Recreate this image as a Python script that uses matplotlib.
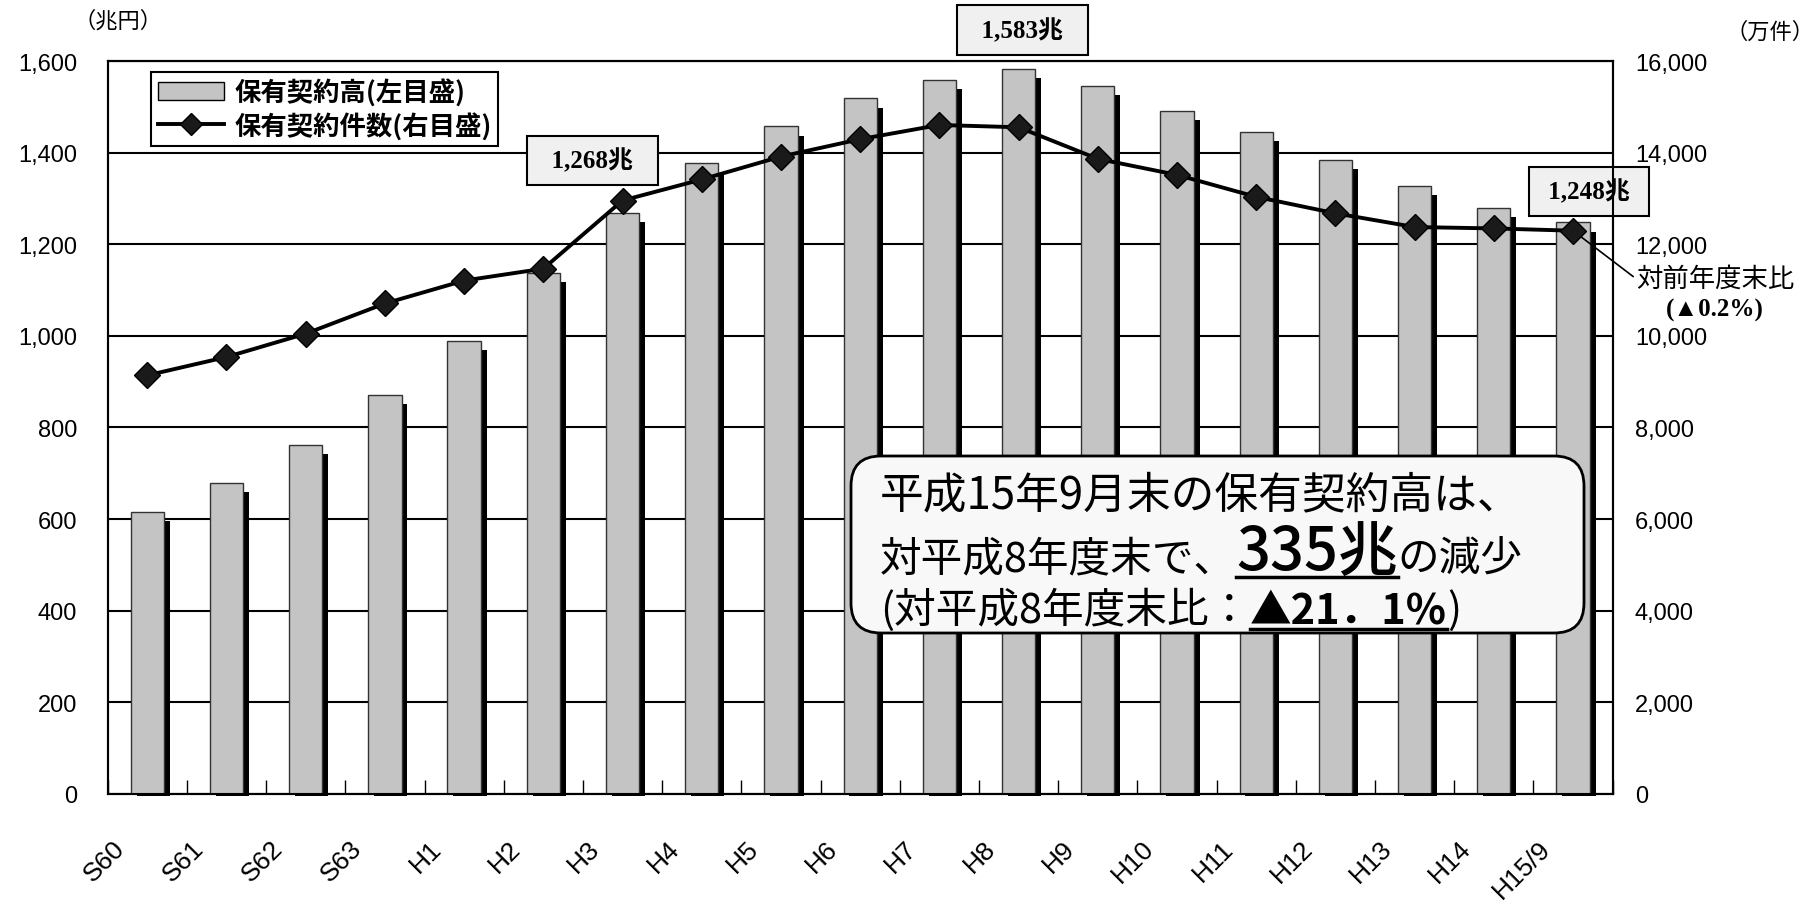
import matplotlib
matplotlib.use('Agg')
import matplotlib.pyplot as plt
import matplotlib.transforms as mtransforms
from matplotlib.patches import FancyBboxPatch, Patch
from matplotlib.lines import Line2D
import numpy as np

plt.rcParams['font.family'] = ['Noto Sans CJK JP', 'DejaVu Sans']

# data
years = ['S60', 'S61', 'S62', 'S63', 'H1', 'H2', 'H3', 'H4', 'H5', 'H6',
         'H7', 'H8', 'H9', 'H10', 'H11', 'H12', 'H13', 'H14', 'H15/9']
amount = [615, 678, 762, 871, 990, 1137, 1268, 1377, 1458, 1519,
          1560, 1583, 1547, 1491, 1446, 1385, 1327, 1279, 1248]      # 兆円
count = [9140, 9540, 10050, 10710, 11210, 11470, 12960, 13420, 13920, 14300,
         14610, 14560, 13870, 13520, 13040, 12680, 12380, 12350, 12300]  # 万件
left_ticks = list(range(0, 1601, 200))
right_ticks = list(range(0, 16001, 2000))

W, H = 1816, 904
fig = plt.figure(figsize=(W / 100, H / 100), dpi=100)
ax = fig.add_axes([0.0593, 0.121, 0.8287, 0.810])
x = np.arange(len(years))

# bars with black drop shadow
ax.bar(x + 0.075, np.array(amount) - 14, width=0.42, bottom=-6,
       color='black', zorder=2, clip_on=False)
ax.bar(x, amount, width=0.42, color='#c4c4c4', edgecolor='#333333',
       linewidth=1, zorder=3)
ax.set_xlim(-0.5, len(years) - 0.5)
ax.set_ylim(0, 1600)
ax.set_yticks(left_ticks)
ax.set_yticklabels([f'{v:,}' for v in left_ticks], family='Liberation Sans', fontsize=17)
ax.grid(axis='y', color='black', linewidth=1.5)
ax.set_axisbelow(True)
ax.set_xticks(x)
ax.set_xticklabels(years, rotation=45, ha='right', rotation_mode='anchor',
                   family='Liberation Sans', fontsize=19)
ax.set_xticks(np.arange(-0.5, len(years), 1), minor=True)
ax.tick_params(axis='x', which='major', length=0, pad=26)
ax.tick_params(axis='x', which='minor', direction='in', length=10, width=1)
ax.tick_params(axis='y', length=0, pad=22)
shift = mtransforms.ScaledTranslation(-0.35, -0.06, fig.dpi_scale_trans)
for lab in ax.get_xticklabels():
    lab.set_transform(lab.get_transform() + shift)
for s in ax.spines.values():
    s.set_linewidth(1.5)

# line on right axis
ax2 = ax.twinx()
ax2.plot(x, count, '-', color='black', lw=2.8, marker='D', ms=13,
         mfc='#1a1a1a', mec='black', zorder=5)
ax2.set_ylim(0, 16000)
ax2.set_yticks(right_ticks)
ax2.set_yticklabels([f'{v:,}' for v in right_ticks], family='Liberation Sans', fontsize=17)
ax2.tick_params(axis='y', length=0, pad=16)
for s in ax2.spines.values():
    s.set_linewidth(1.5)

fig.text(118 / W, 1 - 21 / H, '（兆円）', fontsize=16, ha='center', va='center')
fig.text(1770 / W, 1 - 32 / H, '（万件）', fontsize=16, ha='center', va='center')

# legend
handles = [Patch(facecolor='#c4c4c4', edgecolor='black', linewidth=1),
           Line2D([], [], color='black', lw=2.8, marker='D', ms=11, mfc='#1a1a1a')]
leg = ax.legend(handles, ['保有契約高(左目盛)', '保有契約件数(右目盛)'],
                loc='upper left', bbox_to_anchor=(0.029, 0.986), borderaxespad=0,
                prop={'size': 19, 'weight': 'bold'}, fancybox=False,
                edgecolor='black', framealpha=1, handlelength=2.5,
                borderpad=0.25, labelspacing=0.2, handletextpad=0.4)
leg.get_frame().set_linewidth(1.5)
leg.set_zorder(10)

# value boxes
serif = ['Liberation Serif', 'Noto Sans CJK JP']
box = dict(boxstyle='square,pad=0.5', fc='#f0f0f0', ec='black', lw=1.5)
for i, dx, dy, padtxt in [(6, -30, 53, '  '), (11, 4, 39, '  '), (18, 16, 31, ' ')]:
    ax.annotate(f'{padtxt}{amount[i]:,}兆{padtxt}', xy=(i, amount[i]), xytext=(dx, dy),
                textcoords='offset pixels', ha='center', va='center',
                family=serif, weight='bold', fontsize=18, bbox=box,
                zorder=12, annotation_clip=False)

ax2.annotate('対前年度末比', xy=(18, count[18]), xytext=(63, -48),
             textcoords='offset pixels', ha='left', va='center', fontsize=19,
             arrowprops=dict(arrowstyle='-', lw=1.2, color='black',
                             shrinkA=0, shrinkB=0, relpos=(0, 0.5)),
             annotation_clip=False)
ax2.annotate('(▲0.2%)', xy=(18, count[18]), xytext=(142, -79),
             textcoords='offset pixels', ha='center', va='center', fontsize=18,
             family=serif, weight='bold', annotation_clip=False)

# call-out box
bx0, by0, bx1, by1 = 851, 457, 1584, 634
fig.patches.append(FancyBboxPatch(
    (bx0 / W, 1 - by1 / H), (bx1 - bx0) / W, (by1 - by0) / H,
    boxstyle=f'round,pad=0,rounding_size={30 / W}', mutation_aspect=W / H,
    transform=fig.transFigure, fc='#f8f8f8', ec='black', lw=2, zorder=20))

renderer = fig.canvas.get_renderer()


def run_line(x0, base, pieces):
    xp = x0
    for s, size, weight, ul in pieces:
        t = fig.text(xp / W, 1 - base / H, s, fontsize=size, weight=weight,
                     ha='left', va='baseline', zorder=21)
        bb = t.get_window_extent(renderer)
        if ul:
            fig.lines.append(Line2D([bb.x0 / W, bb.x1 / W],
                                    [1 - (base + 7) / H] * 2, color='black',
                                    lw=2.5, transform=fig.transFigure, zorder=21))
        xp += bb.width


run_line(880, 508, [('平成15年9月末の保有契約高は、', 31.5, 'normal', False)])
run_line(880, 571, [('対平成8年度末で、', 30, 'normal', False),
                    ('335兆', 43, 'medium', True),
                    ('の減少', 30, 'normal', False)])
run_line(880, 623, [('(対平成8年度末比：', 30, 'normal', False),
                    ('▲21．1%', 30, 'bold', True),
                    (')', 30, 'normal', False)])

fig.savefig('out.png', dpi=100)
